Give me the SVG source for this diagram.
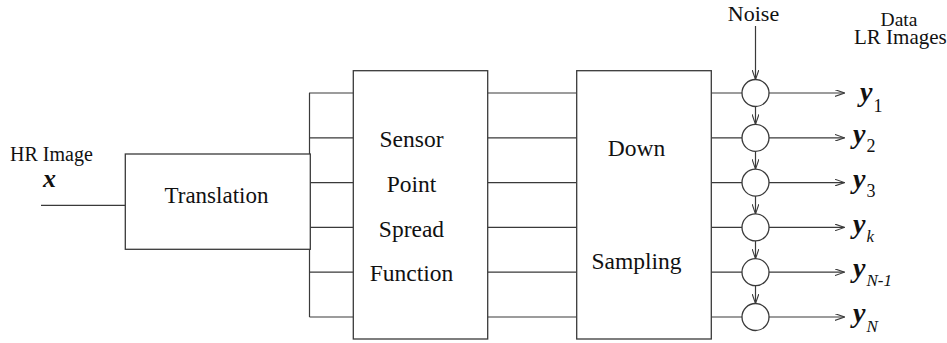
<svg xmlns="http://www.w3.org/2000/svg" width="947" height="343" viewBox="0 0 947 343">
<defs>
<style>
.box{fill:#fff;stroke:#3a3a3a;stroke-width:1.3}
.ln{fill:none;stroke:#3a3a3a;stroke-width:1.2}
.lbl{fill:#111;font-family:'Liberation Serif','Times New Roman',serif}
.mid{font-size:23.5px;text-anchor:middle}
.var{font-weight:bold;font-style:italic;font-size:28px}
.sub{font-size:18px}
.subi{font-size:17px;font-style:italic}
</style>
<marker id="ah" viewBox="0 0 10 7" refX="10" refY="3.5" markerWidth="10" markerHeight="7" markerUnits="userSpaceOnUse" orient="auto">
<path d="M0,0 L10,3.5 L0,7" fill="none" stroke="#3a3a3a" stroke-width="1.1"/>
</marker>
</defs>
<rect width="947" height="343" fill="#fff"/>

<g id="connectors">
<line class="ln" x1="41" y1="205.3" x2="125.3" y2="205.3"/>
<line class="ln" x1="309.5" y1="92.7" x2="309.5" y2="317"/>
<path class="ln" d="M309.5,93 H353.3 M309.5,137.8 H353.3 M309.5,182.6 H353.3 M309.5,227.4 H353.3 M309.5,272.2 H353.3 M309.5,317 H353.3"/>
<path class="ln" d="M487.7,93 H576.7 M487.7,137.8 H576.7 M487.7,182.6 H576.7 M487.7,227.4 H576.7 M487.7,272.2 H576.7 M487.7,317 H576.7"/>
<path class="ln" d="M711.3,93 H742 M711.3,137.8 H742 M711.3,182.6 H742 M711.3,227.4 H742 M711.3,272.2 H742 M711.3,317 H742"/>
<line class="ln" x1="755.5" y1="26" x2="755.5" y2="79.5" marker-end="url(#ah)"/>
<line class="ln" x1="755.5" y1="106.5" x2="755.5" y2="124.3" marker-end="url(#ah)"/>
<line class="ln" x1="755.5" y1="151.3" x2="755.5" y2="169.1" marker-end="url(#ah)"/>
<line class="ln" x1="755.5" y1="196.1" x2="755.5" y2="213.9" marker-end="url(#ah)"/>
<line class="ln" x1="755.5" y1="240.9" x2="755.5" y2="258.7" marker-end="url(#ah)"/>
<line class="ln" x1="755.5" y1="285.7" x2="755.5" y2="303.5" marker-end="url(#ah)"/>
<line class="ln" x1="769" y1="93" x2="844.5" y2="93" marker-end="url(#ah)"/>
<line class="ln" x1="769" y1="137.8" x2="844.5" y2="137.8" marker-end="url(#ah)"/>
<line class="ln" x1="769" y1="182.6" x2="844.5" y2="182.6" marker-end="url(#ah)"/>
<line class="ln" x1="769" y1="227.4" x2="844.5" y2="227.4" marker-end="url(#ah)"/>
<line class="ln" x1="769" y1="272.2" x2="844.5" y2="272.2" marker-end="url(#ah)"/>
<line class="ln" x1="769" y1="317" x2="844.5" y2="317" marker-end="url(#ah)"/>
</g>

<g id="input">
<text class="lbl" x="10" y="160.7" font-size="20">HR Image</text>
<text class="lbl" x="43" y="186.5" font-size="26" font-weight="bold" font-style="italic">x</text>
</g>

<g id="translation">
<rect class="box" x="125.3" y="154" width="185" height="95.3"/>
<text class="lbl" x="216.5" y="202.7" font-size="23" text-anchor="middle">Translation</text>
</g>

<g id="psf">
<rect class="box" x="353.3" y="70.7" width="134.4" height="268.3"/>
<text class="lbl mid" x="411.5" y="146.7">Sensor</text>
<text class="lbl mid" x="411.5" y="191.7">Point</text>
<text class="lbl mid" x="411.5" y="236.7">Spread</text>
<text class="lbl mid" x="411.5" y="281">Function</text>
</g>

<g id="downsampling">
<rect class="box" x="576.7" y="70.7" width="134.6" height="268.3"/>
<text class="lbl mid" x="636.5" y="156">Down</text>
<text class="lbl mid" x="636.5" y="269.3">Sampling</text>
</g>

<g id="noise">
<text class="lbl" x="753.5" y="20.7" font-size="22" text-anchor="middle">Noise</text>
</g>

<g id="sum1"><circle class="box" cx="755.5" cy="93" r="13.5"/></g>
<g id="sum2"><circle class="box" cx="755.5" cy="137.8" r="13.5"/></g>
<g id="sum3"><circle class="box" cx="755.5" cy="182.6" r="13.5"/></g>
<g id="sumk"><circle class="box" cx="755.5" cy="227.4" r="13.5"/></g>
<g id="sumN1"><circle class="box" cx="755.5" cy="272.2" r="13.5"/></g>
<g id="sumN"><circle class="box" cx="755.5" cy="317" r="13.5"/></g>

<g id="outputs">
<text class="lbl" x="899" y="26" font-size="19.5" text-anchor="middle">Data</text>
<text class="lbl" x="854" y="44" font-size="21">LR Images</text>
<text class="lbl" x="860" y="101"><tspan class="var">y</tspan><tspan class="sub" dx="1" dy="10.5">1</tspan></text>
<text class="lbl" x="853" y="143"><tspan class="var">y</tspan><tspan class="sub" dx="1" dy="8.7">2</tspan></text>
<text class="lbl" x="853" y="188"><tspan class="var">y</tspan><tspan class="sub" dx="1" dy="9">3</tspan></text>
<text class="lbl" x="853" y="232.5"><tspan class="var">y</tspan><tspan class="subi" dx="1" dy="9.5">k</tspan></text>
<text class="lbl" x="853" y="277"><tspan class="var">y</tspan><tspan class="subi" dx="1" dy="9">N-1</tspan></text>
<text class="lbl" x="853" y="322"><tspan class="var">y</tspan><tspan class="subi" dx="1" dy="9.7">N</tspan></text>
</g>
</svg>
